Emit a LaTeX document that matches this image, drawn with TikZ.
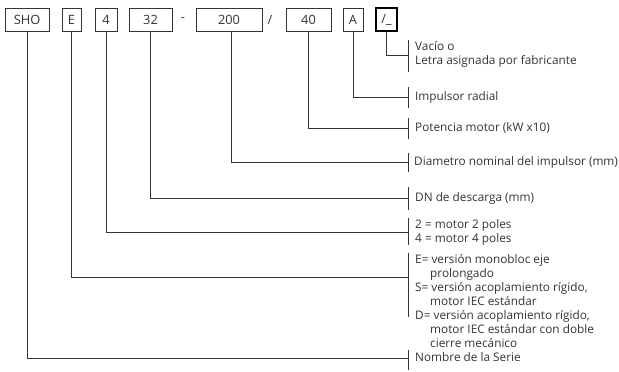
\documentclass[tikz,border=0pt]{standalone}
\usepackage{fontspec}
\setmainfont{Open Sans}
\usetikzlibrary{calc}
\definecolor{ink}{HTML}{333333}
\tikzset{
  codebox/.style={draw=ink, line width=0.8pt, minimum height=23pt, inner sep=0pt, text=ink, font=\fontsize{12.8}{14}\selectfont},
  lbl/.style={anchor=west, inner sep=0pt, align=left, text=ink, font=\fontsize{11.8}{14}\selectfont},
  conn/.style={draw=ink, line width=0.8pt},
  sep/.style={text=ink, font=\fontsize{12.8}{14}\selectfont, inner sep=0pt}
}
\begin{document}
\begin{tikzpicture}[x=1pt,y=-1pt]
\useasboundingbox (0,0) rectangle (619,372);
% code boxes
\node[codebox, minimum width=44pt] (bSHO) at (27,19.5) {SHO};
\node[codebox, minimum width=19pt] (bE) at (71.5,19.5) {E};
\node[codebox, minimum width=22pt] (b4) at (106,19.5) {4};
\node[codebox, minimum width=43pt] (b32) at (150.5,19.5) {32};
\node[sep] (dash) at (183,19.5) {-};
\node[codebox, minimum width=66pt] (b200) at (229,19.5) {200};
\node[sep] (slash) at (270,19.5) {/};
\node[codebox, minimum width=45pt] (b40) at (308.5,19.5) {40};
\node[codebox, minimum width=20pt] (bA) at (353,19.5) {A};
\node[codebox, minimum width=21pt, draw=black, line width=1.6pt] (bL) at (386.5,19.5) {/\_};
% bar coordinates
\coordinate (cL) at (408,55);
\coordinate (cA) at (408,97);
\coordinate (c40) at (408,128);
\coordinate (c200) at (408,162);
\coordinate (c32) at (408,198);
\coordinate (c4) at (408,232);
\coordinate (cE) at (408,277);
\coordinate (cSHO) at (408,358);
% connectors
\draw[conn] (bL.south) |- (cL);
\draw[conn] (bA.south) |- (cA);
\draw[conn] (b40.south) |- (c40);
\draw[conn] ([xshift=2pt]b200.south) |- (c200);
\draw[conn] (b32.south) |- (c32);
\draw[conn] (b4.south) |- (c4);
\draw[conn] (bE.south) |- (cE);
\draw[conn] (bSHO.south) |- (cSHO);
% bars
\draw[conn] (408,40) -- (408,72);
\draw[conn] (408,87) -- (408,108);
\draw[conn] (408,118) -- (408,139);
\draw[conn] (408,153) -- (408,172);
\draw[conn] (408,187) -- (408,210);
\draw[conn] (408,218) -- (408,245);
\draw[conn] (408,253) -- (408,317);
\draw[conn] (408,350) -- (408,370);
% labels
\node[lbl] (tL) at (415,54) {Vacío o\\Letra asignada por fabricante};
\node[lbl] (tA) at (415,97) {Impulsor radial};
\node[lbl] (t40) at (415,128) {Potencia motor (kW x10)};
\node[lbl] (t200) at (414,162) {Diametro nominal del impulsor (mm)};
\node[lbl] (t32) at (415,198) {DN de descarga (mm)};
\node[lbl] (t4) at (415,232.5) {2 = motor 2 poles\\4 = motor 4 poles};
\node[lbl] (tE) at (415,301) {E= versión monobloc eje\\\hspace*{15pt}prolongado\\S= versión acoplamiento rígido,\\\hspace*{15pt}motor IEC estándar\\D= versión acoplamiento rígido,\\\hspace*{15pt}motor IEC estándar con doble\\\hspace*{15pt}cierre mecánico};
\node[lbl] (tSHO) at (415,357) {Nombre de la Serie};
\end{tikzpicture}
\end{document}
